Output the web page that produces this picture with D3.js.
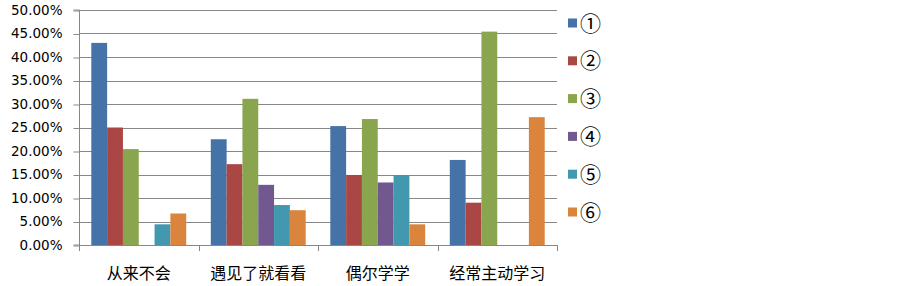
<!DOCTYPE html>
<html>
<head>
<meta charset="utf-8">
<script src="https://cdn.jsdelivr.net/npm/d3@7"></script>
<style>
  body { margin: 0; background: #fff; }
</style>
</head>
<body>
<div class="bar__container"></div>
<script>
const categories = ["从来不会", "遇见了就看看", "偶尔学学", "经常主动学习"];
const seriesNames = ["①", "②", "③", "④", "⑤", "⑥"];
const colors = ["#4572A7", "#AA4643", "#89A54E", "#71588F", "#4198AF", "#DB843D"];
// one array per series, values in % for each category
const s1 = [43.0, 22.5, 25.3, 18.1];
const s2 = [25.0, 17.2, 14.9, 9.0];
const s3 = [20.4, 31.1, 26.8, 45.4];
const s4 = [0, 12.8, 13.3, 0];
const s5 = [4.4, 8.5, 14.9, 0];
const s6 = [6.7, 7.4, 4.4, 27.2];
const yTicks = [0, 5, 10, 15, 20, 25, 30, 35, 40, 45, 50];

const series = [s1, s2, s3, s4, s5, s6];

const width = 903, height = 286;
const margin = { top: 10, right: 346, bottom: 41, left: 79 };

const svg = d3
  .select(".bar__container")
  .append("svg")
  .attr("width", width)
  .attr("height", height);

const x0 = d3
  .scaleBand()
  .domain(categories)
  .range([margin.left, width - margin.right]);

const x1 = d3
  .scaleBand()
  .domain(seriesNames)
  .range([12.3, x0.bandwidth() - 12.3]);

const y = d3
  .scaleLinear()
  .domain([0, 50])
  .range([height - margin.bottom, margin.top]);

// gridlines
svg
  .append("g")
  .selectAll("line")
  .data(yTicks.slice(1))
  .enter()
  .append("line")
  .attr("x1", margin.left)
  .attr("x2", width - margin.right)
  .attr("y1", (d) => Math.round(y(d)) + 0.5)
  .attr("y2", (d) => Math.round(y(d)) + 0.5)
  .attr("stroke", "#878787")
  .attr("stroke-width", 1);

// bars
const groups = svg
  .append("g")
  .selectAll("g")
  .data(series)
  .enter()
  .append("g")
  .attr("fill", (d, i) => colors[i]);

groups
  .selectAll("rect")
  .data((d, i) => d.map((v, j) => ({ v, cat: categories[j], s: seriesNames[i] })))
  .enter()
  .append("rect")
  .filter((d) => d.v > 0)
  .attr("x", (d) => x0(d.cat) + x1(d.s))
  .attr("width", x1.bandwidth())
  .attr("y", (d) => y(d.v))
  .attr("height", (d) => y(0) - y(d.v));

// y axis
const yAxis = svg
  .append("g")
  .attr("transform", `translate(${margin.left + 0.5},0)`)
  .call(
    d3.axisLeft(y)
      .tickValues(yTicks)
      .tickSize(6)
      .tickFormat((d) => d.toFixed(2) + "%")
  );
yAxis.select(".domain").attr("stroke", "#878787").attr("d", `M-6,${y(0)}H0V${y(50)}H-6`);
yAxis.selectAll(".tick line").attr("stroke", "#878787").attr("transform", "translate(0,0.5)");
yAxis
  .selectAll(".tick text")
  .attr("x", -17)
  .attr("fill", "#000")
  .style("font-family", "DejaVu Sans")
  .style("font-size", "13.5px");

// x axis with boundary ticks
const xAxisG = svg.append("g");
xAxisG
  .append("line")
  .attr("x1", margin.left)
  .attr("x2", width - margin.right + 0.5)
  .attr("y1", Math.round(y(0)) + 0.5)
  .attr("y2", Math.round(y(0)) + 0.5)
  .attr("stroke", "#878787");
const bounds = categories.map((c) => x0(c)).concat([x0.range()[1]]);
xAxisG
  .selectAll(".bt")
  .data(bounds)
  .enter()
  .append("line")
  .attr("x1", (d) => Math.round(d) + 0.5)
  .attr("x2", (d) => Math.round(d) + 0.5)
  .attr("y1", Math.round(y(0)))
  .attr("y2", Math.round(y(0)) + 6)
  .attr("stroke", "#878787");
xAxisG
  .selectAll("text")
  .data(categories)
  .enter()
  .append("text")
  .attr("x", (d) => x0(d) + x0.bandwidth() / 2)
  .attr("y", 273)
  .attr("dy", "0.35em")
  .attr("text-anchor", "middle")
  .style("font-family", "Noto Sans CJK SC")
  .style("font-size", "16px")
  .text((d) => d);

// legend
const legend = svg
  .append("g")
  .selectAll("g")
  .data(seriesNames)
  .enter()
  .append("g")
  .attr("transform", (d, i) => `translate(568,${23 + i * 37.8})`);
legend
  .append("rect")
  .attr("x", 0)
  .attr("y", -4.5)
  .attr("width", 9)
  .attr("height", 9)
  .attr("fill", (d, i) => colors[i]);
legend
  .append("text")
  .attr("x", 12)
  .attr("y", 0)
  .attr("dy", "0.36em")
  .style("font-family", "Noto Sans CJK SC")
  .style("font-size", "21px")
  .text((d) => d);
</script>
</body>
</html>
